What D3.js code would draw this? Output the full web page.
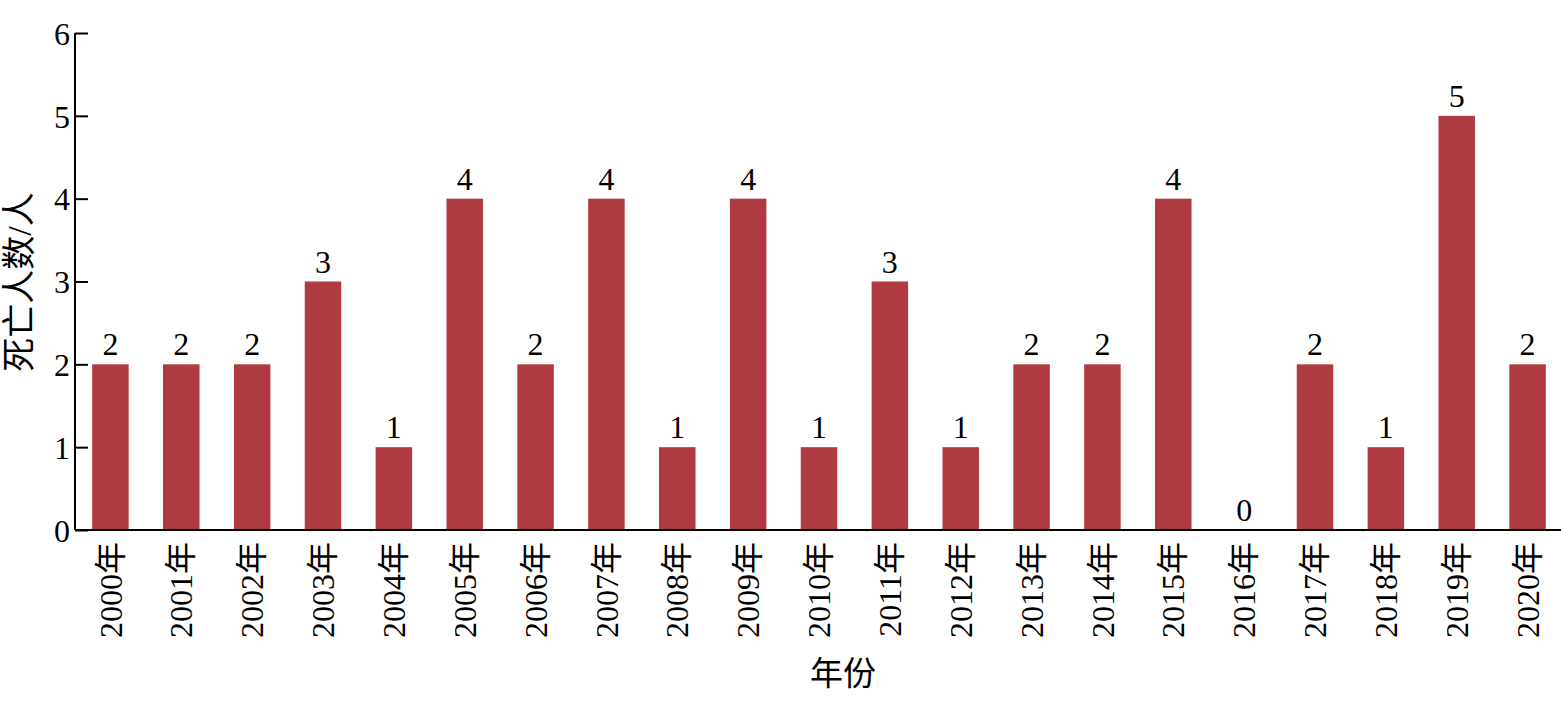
<!DOCTYPE html>
<html><head><meta charset="utf-8">
<script src="https://cdn.jsdelivr.net/npm/d3@7"></script>
<style>body{margin:0;background:#fff}</style>
</head><body>
<svg id="c" width="1561" height="719"></svg>
<script>
const categories = ["2000年","2001年","2002年","2003年","2004年","2005年","2006年","2007年","2008年","2009年","2010年","2011年","2012年","2013年","2014年","2015年","2016年","2017年","2018年","2019年","2020年"];
const deaths = [2,2,2,3,1,4,2,4,1,4,1,3,1,2,2,4,0,2,1,5,2];
const yTicks = [0,1,2,3,4,5,6];
const yTitle = "死亡人数/人";
const xTitle = "年份";

const FONT = "'Liberation Serif','Times New Roman','Noto Sans CJK SC',serif";
const svg = d3.select("#c");
const mLeft = 75, mRight = 1563, mTop = 33, mBottom = 530;
const x = d3.scaleBand().domain(categories).range([mLeft, mRight]).paddingInner(0.485).paddingOuter(0.2425);
const y = d3.scaleLinear().domain([0,6]).range([mBottom, mTop]);

svg.selectAll("rect.bar").data(deaths).join("rect")
  .attr("class","bar")
  .attr("x",(d,i)=>x(categories[i]))
  .attr("width",x.bandwidth())
  .attr("y",d=>y(d))
  .attr("height",d=>y(0)-y(d))
  .attr("fill","#af3a42");

svg.selectAll("text.val").data(deaths).join("text")
  .attr("class","val")
  .attr("x",(d,i)=>x(categories[i])+x.bandwidth()/2)
  .attr("y",d=>y(d)-9)
  .attr("text-anchor","middle")
  .attr("font-family",FONT).attr("font-size",32)
  .text(d=>d);

// y axis
const ya = svg.append("g").attr("transform",`translate(${mLeft},0)`)
  .call(d3.axisLeft(y).tickValues(yTicks).tickSize(-13).tickPadding(5).tickFormat(d3.format("d")));
ya.select(".domain").attr("stroke","#000").attr("stroke-width",2).attr("d",`M0,${mTop}V${mBottom}`);
ya.selectAll(".tick line").attr("stroke","#000").attr("stroke-width",2);
ya.selectAll(".tick text").attr("font-family",FONT).attr("font-size",32).attr("fill","#000").attr("dy","0.35em").attr("x",-5);

// x axis
const xa = svg.append("g").attr("transform",`translate(0,${mBottom})`)
  .call(d3.axisBottom(x).tickSize(0).tickPadding(0));
xa.select(".domain").attr("stroke","#000").attr("stroke-width",2).attr("d",`M${mLeft},0H1561`);
xa.selectAll(".tick text")
  .attr("font-family",FONT).attr("font-size",32).attr("fill","#000")
  .attr("text-anchor","end")
  .attr("transform","rotate(-90)")
  .attr("x",-12).attr("y",0).attr("dy","0.35em");

svg.append("text")
  .attr("transform",`translate(31,282) rotate(-90)`)
  .attr("text-anchor","middle")
  .attr("font-family",FONT).attr("font-size",34)
  .text(yTitle);
svg.append("text")
  .attr("x",843).attr("y",685)
  .attr("text-anchor","middle")
  .attr("font-family",FONT).attr("font-size",33)
  .text(xTitle);
</script>
</body></html>
